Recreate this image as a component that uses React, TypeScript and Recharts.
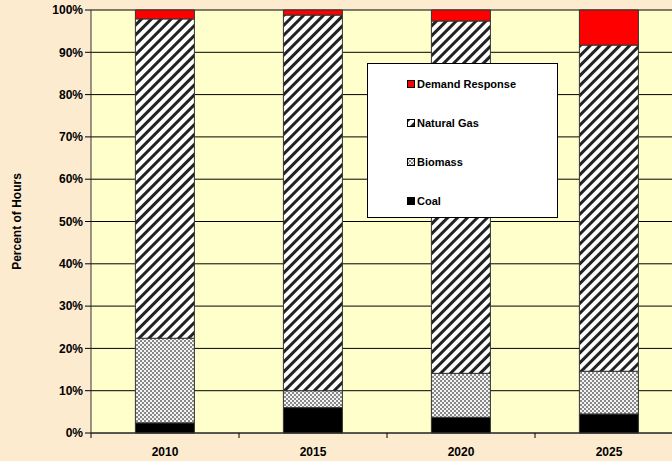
import React from "react";
import { BarChart, Bar, XAxis, YAxis, CartesianGrid, Legend } from "recharts";

const YEARS = ["2010", "2015", "2020", "2025"];
const COAL = [2.4, 6.0, 3.7, 4.5];
const BIOMASS = [20.0, 4.0, 10.4, 10.1];
const NATURAL_GAS = [75.5, 88.8, 83.3, 77.1];
const DEMAND_RESPONSE = [2.1, 1.2, 2.6, 8.3];
const Y_TICKS = [0, 10, 20, 30, 40, 50, 60, 70, 80, 90, 100];

const SERIES = [
  { key: "coal", name: "Coal", fill: "#000000" },
  { key: "biomass", name: "Biomass", fill: "url(#checker)" },
  { key: "gas", name: "Natural Gas", fill: "url(#stripes)" },
  { key: "dr", name: "Demand Response", fill: "#FF0000" },
];

const data = YEARS.map((year, i) => ({
  year,
  coal: COAL[i],
  biomass: BIOMASS[i],
  gas: NATURAL_GAS[i],
  dr: DEMAND_RESPONSE[i],
}));

const FONT = "'Liberation Sans', Arial, sans-serif";

// category label centred in the band, tick marks on the band edges
function YearTick(props: any) {
  const { x, y, payload, index } = props;
  const off = payload.offset ?? 0;
  return (
    <g>
      {index === 0 && <line x1={x - off} x2={x - off} y1={y} y2={y + 5} stroke="#000" />}
      <line x1={x + off} x2={x + off} y1={y} y2={y + 5} stroke="#000" />
      <text x={x} y={y + 23} textAnchor="middle" fontFamily={FONT} fontSize={12} fontWeight="bold" fill="#000">
        {payload.value}
      </text>
    </g>
  );
}

function LegendBox() {
  const items = [...SERIES].reverse();
  return (
    <div
      style={{
        width: 191,
        height: 155,
        boxSizing: "border-box",
        background: "#fff",
        border: "1px solid #000",
        position: "relative",
        fontFamily: FONT,
        fontSize: 11,
        fontWeight: "bold",
        color: "#000",
      }}
    >
      {items.map((s, i) => (
        <div
          key={s.key}
          style={{ position: "absolute", left: 39, top: 12 + i * 39, height: 16, display: "flex", alignItems: "center" }}
        >
          <svg width={8} height={8} style={{ marginRight: 2 }}>
            <rect x={0.5} y={0.5} width={7} height={7} fill={s.fill} stroke="#000" />
          </svg>
          <span>{s.name}</span>
        </div>
      ))}
    </div>
  );
}

export default function App() {
  return (
    <div
      style={{
        position: "fixed",
        left: 0,
        top: 0,
        width: 672,
        height: 461,
        overflow: "hidden",
        background: "#FDEBD0",
      }}
    >
      <svg width={0} height={0} style={{ position: "absolute" }}>
        <defs>
          <pattern id="stripes" patternUnits="userSpaceOnUse" width={7} height={7} patternTransform="rotate(45)">
            <rect width={7} height={7} fill="#fff" />
            <rect width={3} height={7} fill="#222" />
          </pattern>
          <pattern id="checker" patternUnits="userSpaceOnUse" width={4} height={4}>
            <rect width={4} height={4} fill="#f4f4f4" />
            <rect width={2} height={2} fill="#888" />
            <rect x={2} y={2} width={2} height={2} fill="#888" />
          </pattern>
        </defs>
      </svg>
      <BarChart
        width={700}
        height={461}
        data={data}
        margin={{ top: 10, right: 17, bottom: 0, left: 0 }}
        barCategoryGap="30%"
      >
        <CartesianGrid vertical={false} stroke="#000" fill="#FFFFCC" fillOpacity={1} />
        <XAxis
          dataKey="year"
          height={28}
          tickSize={0}
          tickMargin={0}
          tickLine={false}
          axisLine={{ stroke: "#333" }}
          tick={<YearTick />}
          interval={0}
        />
        <YAxis
          width={91}
          domain={[0, 100]}
          ticks={Y_TICKS}
          tickFormatter={(v: number) => `${v}%`}
          tickSize={6}
          tickLine={{ stroke: "#000" }}
          axisLine={{ stroke: "#333" }}
          tick={{ fill: "#000", fontSize: 12, fontWeight: "bold", fontFamily: FONT }}
          label={{
            value: "Percent of Hours",
            angle: -90,
            position: "insideLeft",
            offset: 17,
            style: { textAnchor: "middle", fontFamily: FONT, fontSize: 12, fontWeight: "bold", fill: "#000" },
          }}
        />
        <Legend
          layout="vertical"
          align="center"
          verticalAlign="middle"
          wrapperStyle={{ left: 367, top: 63, width: 191, height: 155 }}
          content={() => <LegendBox />}
        />
        {SERIES.map((s) => (
          <Bar
            key={s.key}
            dataKey={s.key}
            name={s.name}
            stackId="a"
            fill={s.fill}
            stroke="#333"
            strokeWidth={1}
            isAnimationActive={false}
          />
        ))}
      </BarChart>
    </div>
  );
}
